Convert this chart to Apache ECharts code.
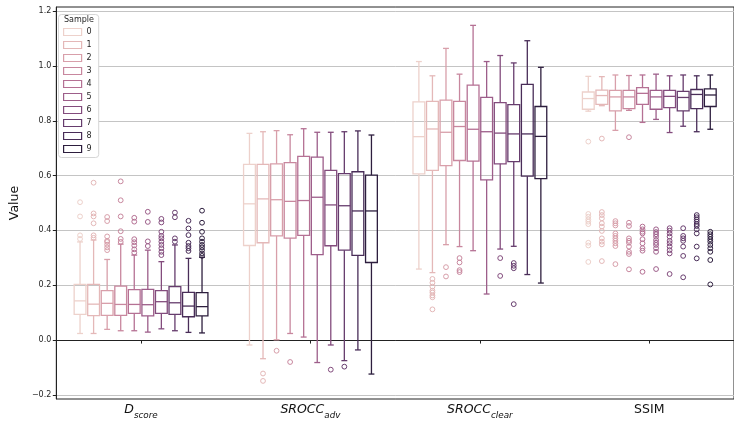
<!DOCTYPE html>
<html><head><meta charset="utf-8">
<script src="https://cdn.jsdelivr.net/npm/echarts@6/dist/echarts.min.js"></script>
<style>html,body{margin:0;padding:0;background:#fff}#c{width:734px;height:423px}</style>
</head><body><div id="c"></div>
<script>
// ---------- data ----------
const categories = ['D_score', 'SROCC_adv', 'SROCC_clear', 'SSIM'];
const sampleNames = ['0', '1', '2', '3', '4', '5', '6', '7', '8', '9'];
const yTicks = [-0.2, 0.0, 0.2, 0.4, 0.6, 0.8, 1.0, 1.2];

// [lower whisker, Q1, median, Q3, upper whisker] for samples 0..9
const dscoreStats = [
  [0.024, 0.094, 0.143, 0.203, 0.358],
  [0.024, 0.089, 0.131, 0.203, 0.365],
  [0.039, 0.090, 0.134, 0.180, 0.294],
  [0.034, 0.090, 0.130, 0.197, 0.350],
  [0.034, 0.097, 0.130, 0.184, 0.310],
  [0.029, 0.088, 0.129, 0.185, 0.328],
  [0.041, 0.097, 0.140, 0.180, 0.286],
  [0.034, 0.094, 0.136, 0.195, 0.347],
  [0.028, 0.085, 0.124, 0.174, 0.298],
  [0.026, 0.088, 0.122, 0.173, 0.302]
];
const sroccAdvStats = [
  [-0.018, 0.345, 0.497, 0.641, 0.754],
  [-0.068, 0.355, 0.515, 0.641, 0.760],
  [0.001, 0.380, 0.512, 0.643, 0.764],
  [0.024, 0.372, 0.506, 0.647, 0.749],
  [0.011, 0.382, 0.509, 0.670, 0.771],
  [-0.082, 0.312, 0.521, 0.667, 0.758],
  [-0.018, 0.344, 0.493, 0.619, 0.758],
  [-0.075, 0.328, 0.490, 0.607, 0.760],
  [-0.036, 0.309, 0.471, 0.614, 0.763],
  [-0.124, 0.283, 0.471, 0.602, 0.748]
];
const sroccClearStats = [
  [0.259, 0.606, 0.742, 0.869, 1.016],
  [0.246, 0.619, 0.770, 0.871, 0.964],
  [0.348, 0.636, 0.758, 0.875, 1.064],
  [0.341, 0.655, 0.779, 0.871, 0.970],
  [0.326, 0.653, 0.769, 0.930, 1.148],
  [0.168, 0.584, 0.760, 0.885, 1.016],
  [0.332, 0.643, 0.755, 0.866, 1.038],
  [0.342, 0.651, 0.752, 0.859, 1.011],
  [0.239, 0.598, 0.752, 0.933, 1.092],
  [0.208, 0.589, 0.743, 0.852, 0.995]
];
const ssimStats = [
  [0.835, 0.842, 0.881, 0.905, 0.962],
  [0.855, 0.860, 0.892, 0.912, 0.961],
  [0.765, 0.836, 0.887, 0.911, 0.967],
  [0.838, 0.844, 0.887, 0.911, 0.965],
  [0.794, 0.860, 0.900, 0.921, 0.967],
  [0.805, 0.842, 0.887, 0.911, 0.970],
  [0.757, 0.848, 0.889, 0.911, 0.964],
  [0.780, 0.836, 0.885, 0.907, 0.967],
  [0.760, 0.844, 0.896, 0.914, 0.964],
  [0.769, 0.852, 0.894, 0.916, 0.967]
];

// outliers for samples 0..9
const dscoreOutliers = [
  [0.369, 0.382, 0.451, 0.503],
  [0.373, 0.382, 0.426, 0.451, 0.462, 0.574],
  [0.328, 0.338, 0.348, 0.358, 0.362, 0.378, 0.434, 0.449],
  [0.358, 0.369, 0.397, 0.451, 0.510, 0.579],
  [0.319, 0.331, 0.345, 0.357, 0.368, 0.432, 0.446],
  [0.343, 0.360, 0.431, 0.468],
  [0.310, 0.322, 0.335, 0.347, 0.359, 0.371, 0.380, 0.395, 0.429, 0.442],
  [0.359, 0.371, 0.448, 0.465],
  [0.325, 0.335, 0.343, 0.355, 0.383, 0.407, 0.435],
  [0.307, 0.316, 0.328, 0.338, 0.347, 0.359, 0.371, 0.395, 0.428, 0.472]
];
const sroccAdvOutliers = [
  [],
  [-0.122, -0.149],
  [-0.039],
  [-0.080],
  [],
  [],
  [-0.108],
  [-0.097],
  [],
  []
];
const sroccClearOutliers = [
  [],
  [0.223, 0.209, 0.195, 0.180, 0.173, 0.163, 0.156, 0.112],
  [0.266, 0.232],
  [0.299, 0.283, 0.255, 0.248],
  [],
  [],
  [0.299, 0.234],
  [0.281, 0.271, 0.262, 0.131],
  [],
  []
];
const ssimOutliers = [
  [0.724, 0.460, 0.450, 0.440, 0.432, 0.423, 0.355, 0.345, 0.285],
  [0.735, 0.467, 0.456, 0.444, 0.426, 0.414, 0.398, 0.371, 0.359, 0.349, 0.288],
  [0.434, 0.426, 0.418, 0.389, 0.380, 0.371, 0.362, 0.353, 0.343, 0.277],
  [0.740, 0.428, 0.416, 0.371, 0.362, 0.355, 0.341, 0.322, 0.314, 0.258],
  [0.414, 0.404, 0.395, 0.389, 0.368, 0.353, 0.335, 0.326, 0.249],
  [0.404, 0.394, 0.386, 0.377, 0.365, 0.355, 0.347, 0.335, 0.322, 0.259],
  [0.408, 0.399, 0.389, 0.377, 0.362, 0.353, 0.341, 0.328, 0.316, 0.241],
  [0.408, 0.380, 0.371, 0.362, 0.341, 0.307, 0.229],
  [0.456, 0.448, 0.440, 0.432, 0.423, 0.416, 0.404, 0.389, 0.341, 0.298],
  [0.395, 0.386, 0.377, 0.368, 0.359, 0.347, 0.335, 0.322, 0.292, 0.203]
];

// ---------- build ----------
const allStats = [dscoreStats, sroccAdvStats, sroccClearStats, ssimStats];
const allOutliers = [dscoreOutliers, sroccAdvOutliers, sroccClearOutliers, ssimOutliers];

// seaborn default "ch:" cubehelix colormap (start 0, rot .4, hue .8, light .85, dark .15)
function cubehelix(t) {
  const x = 0.85 + (0.15 - 0.85) * t;
  const a = 0.8 * x * (1 - x) / 2;
  const phi = 2 * Math.PI * (0.4 * x);
  const c = Math.cos(phi), s = Math.sin(phi);
  const ch = v => Math.round(Math.max(0, Math.min(1, v)) * 255).toString(16).padStart(2, '0');
  return '#' + ch(x + a * (-0.14861 * c + 1.78277 * s)) +
               ch(x + a * (-0.29227 * c - 0.90649 * s)) +
               ch(x + a * (1.97294 * c));
}
const palette = sampleNames.map((n, j) => cubehelix(j / (sampleNames.length - 1)));

const nHue = sampleNames.length;
const SLOT = 0.8 / nHue;      // dodge slot in band units
const BOXFRAC = 0.87;         // box width inside slot
const LW = 1.3;
const FONT = 'DejaVu Sans';
const TXT = '#262626';

function hueX(api, cat, j) {
  const c = api.coord([cat, 0]);
  const bw = api.size([1, 0])[0];
  return { cx: c[0] + (j - (nHue - 1) / 2) * SLOT * bw, half: SLOT * bw * BOXFRAC / 2 };
}

function boxSeries(j) {
  return {
    type: 'custom',
    name: sampleNames[j],
    itemStyle: { color: palette[j] },
    encode: { x: 0, y: [1, 2, 3, 4, 5] },
    data: categories.map((c, i) => [i].concat(allStats[i][j])),
    z: 3,
    renderItem: function (params, api) {
      const cat = api.value(0);
      const { cx, half } = hueX(api, cat, j);
      const cap = half * 0.5;
      const y = v => api.coord([cat, v])[1];
      const yMin = y(api.value(1)), yQ1 = y(api.value(2)), yMed = y(api.value(3)),
            yQ3 = y(api.value(4)), yMax = y(api.value(5));
      const st = { stroke: palette[j], lineWidth: LW, fill: null };
      return {
        type: 'group',
        children: [
          { type: 'line', shape: { x1: cx, y1: yMin, x2: cx, y2: yQ1 }, style: st },
          { type: 'line', shape: { x1: cx, y1: yQ3, x2: cx, y2: yMax }, style: st },
          { type: 'line', shape: { x1: cx - cap, y1: yMin, x2: cx + cap, y2: yMin }, style: st },
          { type: 'line', shape: { x1: cx - cap, y1: yMax, x2: cx + cap, y2: yMax }, style: st },
          { type: 'rect', shape: { x: cx - half, y: yQ3, width: 2 * half, height: yQ1 - yQ3 }, style: st },
          { type: 'line', shape: { x1: cx - half, y1: yMed, x2: cx + half, y2: yMed }, style: st }
        ]
      };
    }
  };
}

function outlierSeries(j) {
  const data = [];
  categories.forEach((c, i) => allOutliers[i][j].forEach(v => data.push([i, v])));
  return {
    type: 'custom',
    name: 'outliers ' + sampleNames[j],
    itemStyle: { color: palette[j] },
    encode: { x: 0, y: 1 },
    data: data,
    z: 3,
    renderItem: function (params, api) {
      const cat = api.value(0);
      const { cx } = hueX(api, cat, j);
      const yy = api.coord([cat, api.value(1)])[1];
      return {
        type: 'circle',
        shape: { cx: cx, cy: yy, r: 2.4 },
        style: { stroke: palette[j], lineWidth: 1, fill: null }
      };
    }
  };
}

const series = [];
for (let j = 0; j < nHue; j++) series.push(boxSeries(j));
for (let j = 0; j < nHue; j++) series.push(outlierSeries(j));

const option = {
  animation: false,
  backgroundColor: '#fff',
  textStyle: { fontFamily: FONT },
  title: {
    text: 'Sample', left: 64, top: 16, padding: 0,
    textStyle: { fontSize: 8, fontWeight: 'normal', color: TXT, fontFamily: FONT }
  },
  legend: {
    orient: 'vertical', left: 58.5, top: 14.5,
    padding: [13, 7, 4, 4.5],
    itemWidth: 18, itemHeight: 7, itemGap: 4,
    backgroundColor: '#fff', borderColor: '#d6d6d6', borderWidth: 1, borderRadius: 3,
    selectedMode: false,
    textStyle: { fontSize: 8, color: TXT, fontFamily: FONT, lineHeight: 9 },
    data: sampleNames.map((n, j) => ({
      name: n, icon: 'rect',
      itemStyle: { color: '#fff', borderColor: palette[j], borderWidth: 1.2 }
    }))
  },
  grid: {
    left: 54, right: -11, top: 7, bottom: 24,
    show: true, borderColor: '#222', borderWidth: 1, backgroundColor: 'transparent'
  },
  xAxis: {
    type: 'category', data: categories, boundaryGap: true,
    axisLine: { show: true, lineStyle: { color: '#222', width: 1 } },
    axisTick: { show: true, alignWithLabel: true, length: 3.5, lineStyle: { color: '#222' } },
    splitLine: { show: false },
    axisLabel: {
      margin: 4, color: '#111',
      formatter: function (v) {
        const parts = v.split('_');
        if (parts.length === 2) return '{m|' + parts[0] + '}{s|' + parts[1] + '}';
        return '{n|' + v + '}';
      },
      rich: {
        m: { fontSize: 12.5, fontStyle: 'italic', fontFamily: FONT, color: '#111', lineHeight: 15, verticalAlign: 'top' },
        s: { fontSize: 8.8, fontStyle: 'italic', fontFamily: FONT, color: '#111', lineHeight: 9, padding: [8, 0, 0, 0], verticalAlign: 'top' },
        n: { fontSize: 12.5, fontFamily: FONT, color: '#111', lineHeight: 15, verticalAlign: 'top' }
      }
    }
  },
  yAxis: {
    type: 'value', min: -0.215, max: 1.215,
    name: 'Value', nameLocation: 'middle', nameGap: 33,
    nameTextStyle: { fontSize: 12.5, color: '#111', fontFamily: FONT },
    axisLine: { show: true, lineStyle: { color: '#222', width: 1 } },
    axisTick: { show: true, length: 3.5, lineStyle: { color: '#222' }, customValues: yTicks },
    axisLabel: {
      color: TXT, fontSize: 8, margin: 5, customValues: yTicks,
      formatter: v => (v < 0 ? '\u2212' + Math.abs(v).toFixed(1) : v.toFixed(1))
    },
    splitLine: { show: true, lineStyle: { color: '#c4c4c4', width: 1 } }
  },
  series: series
};

const chart = echarts.init(document.getElementById('c'), null, { renderer: 'canvas' });
chart.setOption(option);
</script>
</body></html>
